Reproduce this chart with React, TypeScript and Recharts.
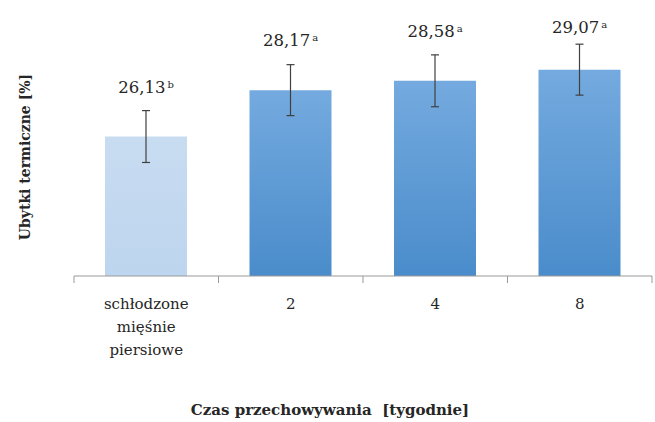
import { BarChart, Bar, XAxis, YAxis, ErrorBar, Cell, LabelList } from "recharts";

const categories = ["schłodzone mięśnie piersiowe", "2", "4", "8"];
const means = [26.13, 28.17, 28.58, 29.07];
const errors = [1.14, 1.12, 1.14, 1.12];
const groups = ["b", "a", "a", "a"];

const data = categories.map((name, i) => ({
  name,
  value: means[i],
  err: errors[i],
  group: groups[i],
}));

const W = 655;
const H = 422;
const LEFT = 74;
const RIGHT = 3;
const BAND = (W - LEFT - RIGHT) / categories.length;
const FONT = '"DejaVu Serif", "Liberation Serif", serif';
const TEXT = "#262626";

const CategoryTick = ({ x, y, payload, index }: any) => {
  const words = String(payload.value).split(" ");
  const left = x - BAND / 2;
  return (
    <g>
      <line x1={left} y1={y - 8} x2={left} y2={y - 1} stroke="#999" />
      {index === categories.length - 1 && (
        <line x1={left + BAND} y1={y - 8} x2={left + BAND} y2={y - 1} stroke="#999" />
      )}
      <text x={x} y={y + 25} textAnchor="middle" style={{ fontFamily: FONT }} fontSize={15} fill={TEXT}>
        {words.map((w, i) => (
          <tspan key={i} x={x} dy={i === 0 ? 0 : 23}>
            {w}
          </tspan>
        ))}
      </text>
    </g>
  );
};

const ValueLabel = ({ x, y, width, index }: any) => {
  const cx = x + width / 2;
  const ty = Math.max(y - 44, 33);
  return (
    <text x={cx} y={ty} textAnchor="middle" style={{ fontFamily: FONT }} fontSize={16.5} fill={TEXT}>
      <tspan>{means[index].toFixed(2).replace(".", ",")}</tspan>
      <tspan dx={2} dy={-5} fontSize={10}>
        {groups[index]}
      </tspan>
    </text>
  );
};

export default function App() {
  return (
    <div style={{ position: "absolute", left: 0, top: 0, width: W, height: H, background: "#fff" }}>
      <BarChart
        width={W}
        height={H}
        data={data}
        margin={{ top: 3, right: RIGHT, bottom: 86, left: LEFT }}
      >
        <defs>
          <linearGradient id="blueGrad" x1="0" y1="0" x2="0" y2="1">
            <stop offset="0%" stopColor="#74AADF" />
            <stop offset="100%" stopColor="#4A8CCB" />
          </linearGradient>
          <linearGradient id="lightGrad" x1="0" y1="0" x2="0" y2="1">
            <stop offset="0%" stopColor="#C8DCF1" />
            <stop offset="100%" stopColor="#BDD5EE" />
          </linearGradient>
        </defs>
        <XAxis
          dataKey="name"
          height={60}
          interval={0}
          tickLine={false}
          axisLine={{ stroke: "#999" }}
          tick={<CategoryTick />}
        />
        <YAxis hide domain={[20, 32]} />
        <Bar dataKey="value" barSize={82} isAnimationActive={false}>
          {data.map((d, i) => (
            <Cell key={d.name} fill={i === 0 ? "url(#lightGrad)" : "url(#blueGrad)"} />
          ))}
          <ErrorBar dataKey="err" width={4} stroke="#404040" strokeWidth={1.2} />
          <LabelList dataKey="value" content={<ValueLabel />} />
        </Bar>
      </BarChart>
      <div
        style={{
          position: "absolute",
          left: 25,
          top: 157,
          transform: "translate(-50%, -50%) rotate(-90deg)",
          whiteSpace: "nowrap",
          fontFamily: FONT,
          fontWeight: "bold",
          fontSize: 14,
          color: TEXT,
        }}
      >
        Ubytki termiczne [%]
      </div>
      <div
        style={{
          position: "absolute",
          left: 330,
          top: 410,
          transform: "translate(-50%, -50%)",
          whiteSpace: "pre",
          fontFamily: FONT,
          fontWeight: "bold",
          fontSize: 15,
          color: TEXT,
        }}
      >
        Czas przechowywania  [tygodnie]
      </div>
    </div>
  );
}
